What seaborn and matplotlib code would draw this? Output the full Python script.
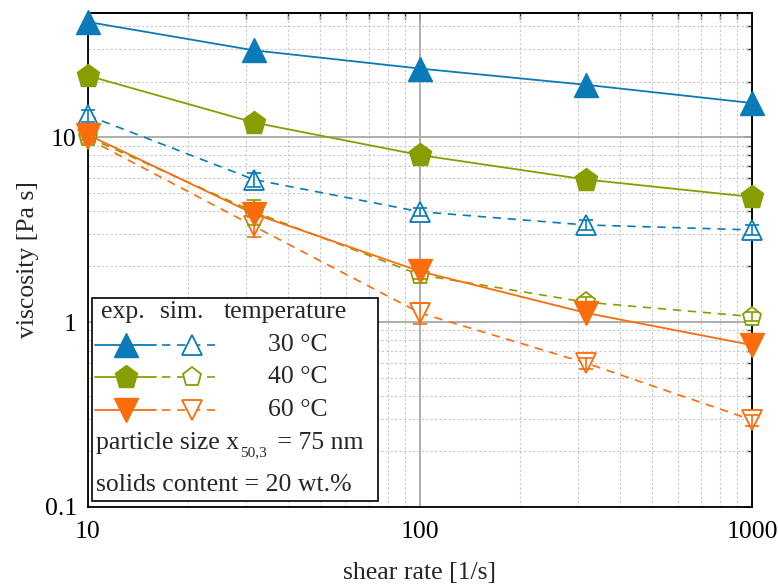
import numpy as np
import pandas as pd
import matplotlib
matplotlib.use("Agg")
import matplotlib.pyplot as plt
import seaborn as sns
from matplotlib.ticker import LogLocator, FuncFormatter, NullFormatter
from matplotlib.lines import Line2D
from matplotlib.patches import Rectangle

# ---- data ----
shear_rate = [10, 31.6, 100, 316, 1000]
exp_30 = [42, 29.5, 23.5, 19.2, 15.3]
exp_40 = [21.5, 12.0, 8.0, 5.9, 4.75]
exp_60 = [10.3, 3.85, 1.88, 1.12, 0.75]
sim_30 = [13.1, 5.9, 3.95, 3.35, 3.15]
sim_40 = [10.0, 3.95, 1.80, 1.28, 1.07]
sim_60 = [9.8, 3.3, 1.12, 0.60, 0.295]
err_30 = [1.0, 0.5, 0.2, 0.2, 0.2]
err_40 = [0.4, 0.6, 0.1, 0.08, 0.06]
err_60 = [0.5, 0.4, 0.15, 0.04, 0.02]
temperatures = ["30 °C", "40 °C", "60 °C"]
colors = ["#0a7bb8", "#889e00", "#fb6c0c"]
exp_markers = ["^", "p", "v"]

FS = 18.5

sns.set_theme(style="white")
plt.rcParams["font.family"] = ["Liberation Serif", "DejaVu Serif"]
plt.rcParams["mathtext.fontset"] = "custom"
plt.rcParams["mathtext.rm"] = "Liberation Serif"

fig = plt.figure(figsize=(7.78, 5.88), dpi=100)
ax = fig.add_axes([0.113, 0.138, 0.8536, 0.840])

exps = [exp_30, exp_40, exp_60]
sims = [sim_30, sim_40, sim_60]
errs = [err_30, err_40, err_60]

for i in range(3):
    df_s = pd.DataFrame({"x": shear_rate, "y": sims[i]})
    sns.lineplot(data=df_s, x="x", y="y", ax=ax, color=colors[i], lw=1.2,
                 dashes=False, linestyle=(0, (5, 4)), marker=exp_markers[i],
                 markersize=14, markerfacecolor="white", markeredgecolor=colors[i],
                 markeredgewidth=1.3, clip_on=False, zorder=3)
    ax.errorbar(shear_rate, sims[i], yerr=errs[i], fmt="none", ecolor=colors[i],
                elinewidth=1.2, capsize=5, capthick=1.2, zorder=4, clip_on=False)
for i in range(3):
    df_e = pd.DataFrame({"x": shear_rate, "y": exps[i]})
    sns.lineplot(data=df_e, x="x", y="y", ax=ax, color=colors[i], lw=1.3,
                 marker=exp_markers[i], markersize=17, markerfacecolor=colors[i],
                 markeredgecolor=colors[i], markeredgewidth=1.0, clip_on=False, zorder=5)

ax.set_xscale("log")
ax.set_yscale("log")
ax.set_xlim(10, 1000)
ax.set_ylim(0.1, 47)

fmt = FuncFormatter(lambda v, p: "%g" % v)
ax.xaxis.set_major_locator(LogLocator(base=10, numticks=10))
ax.yaxis.set_major_locator(LogLocator(base=10, numticks=10))
ax.xaxis.set_minor_locator(LogLocator(base=10, subs=np.arange(2, 10), numticks=20))
ax.yaxis.set_minor_locator(LogLocator(base=10, subs=np.arange(2, 10), numticks=20))
ax.xaxis.set_major_formatter(fmt)
ax.yaxis.set_major_formatter(fmt)
ax.xaxis.set_minor_formatter(NullFormatter())
ax.yaxis.set_minor_formatter(NullFormatter())

ax.grid(True, which="major", color="#a8a8a8", lw=1.3, ls="-")
ax.grid(True, which="minor", color="#c8c8c8", lw=0.8, ls=(0, (2, 2)))
ax.set_axisbelow(True)

for s in ax.spines.values():
    s.set_color("black")
    s.set_linewidth(1.3)

ax.tick_params(which="major", direction="inout", length=10, width=1.2, colors="black",
               labelsize=FS, pad=3)
ax.tick_params(which="minor", direction="inout", length=6, width=1.0, colors="black")
ax.tick_params(axis="x", pad=5)

sec_x = ax.secondary_xaxis("top")
sec_x.set_xscale("log")
sec_x.xaxis.set_minor_locator(LogLocator(base=10, subs=np.arange(2, 10), numticks=20))
sec_x.tick_params(which="major", direction="in", length=6, width=1.2, labeltop=False)
sec_x.tick_params(which="minor", direction="in", length=4, width=1.0)
sec_x.xaxis.set_major_formatter(NullFormatter())
sec_x.xaxis.set_minor_formatter(NullFormatter())
sec_y = ax.secondary_yaxis("right")
sec_y.set_yscale("log")
sec_y.yaxis.set_minor_locator(LogLocator(base=10, subs=np.arange(2, 10), numticks=20))
sec_y.tick_params(which="major", direction="in", length=6, width=1.2, labelright=False)
sec_y.tick_params(which="minor", direction="in", length=4, width=1.0)
sec_y.yaxis.set_major_formatter(NullFormatter())
sec_y.yaxis.set_minor_formatter(NullFormatter())

ax.set_xlabel("shear rate [1/s]", fontsize=FS, labelpad=14)
ax.set_ylabel("viscosity [Pa s]", fontsize=FS, labelpad=4)

# ---- custom legend box (axes coordinates) ----
W, H = 664.0, 494.0
def ax_x(px):
    return (px - 88) / W
def ax_y(py):
    return (507 - py) / H

tr = ax.transAxes
box = Rectangle((ax_x(92), ax_y(501)), ax_x(378) - ax_x(92), ax_y(298) - ax_y(501),
                transform=tr, facecolor="white", edgecolor="black", lw=1.2, zorder=10)
ax.add_patch(box)
ax.text(ax_x(101), ax_y(312), "exp.", transform=tr, fontsize=FS, va="center", ha="left", zorder=11)
ax.text(ax_x(160), ax_y(312), "sim.", transform=tr, fontsize=FS, va="center", ha="left", zorder=11)
ax.text(ax_x(224), ax_y(312), "temperature", transform=tr, fontsize=FS, va="center", ha="left", zorder=11)
rows = [345, 377, 410]
for i in range(3):
    yy = ax_y(rows[i])
    ax.add_line(Line2D([ax_x(95), ax_x(156)], [yy, yy], transform=tr, color=colors[i], lw=1.3, zorder=11))
    ax.add_line(Line2D([ax_x(126)], [yy], transform=tr, color=colors[i], marker=exp_markers[i],
                       markersize=17, markerfacecolor=colors[i], markeredgecolor=colors[i], zorder=12))
    ax.add_line(Line2D([ax_x(162), ax_x(215)], [yy, yy], transform=tr, color=colors[i], lw=1.2,
                       linestyle=(0, (5, 4)), zorder=11))
    ax.add_line(Line2D([ax_x(192)], [yy], transform=tr, color=colors[i], marker=exp_markers[i],
                       markersize=14, markerfacecolor="white", markeredgecolor=colors[i],
                       markeredgewidth=1.3, zorder=12))
    ax.text(ax_x(268), yy, temperatures[i], transform=tr, fontsize=FS, va="center", ha="left", zorder=11)
t = ax.text(ax_x(96), ax_y(443), "particle size x", transform=tr,
            fontsize=FS, va="center", ha="left", zorder=11)
ax.annotate("50,3", xycoords=t, xy=(1, 0), xytext=(0.5, -4), textcoords="offset points",
            fontsize=11, va="bottom", ha="left", zorder=11)
ax.annotate(" = 75 nm", xycoords=t, xy=(1, 0.5), xytext=(23, 0), textcoords="offset points",
            fontsize=FS, va="center", ha="left", zorder=11)
ax.text(ax_x(96), ax_y(485), "solids content = 20 wt.%", transform=tr, fontsize=FS,
        va="center", ha="left", zorder=11)

fig.savefig("out.png", dpi=100)
